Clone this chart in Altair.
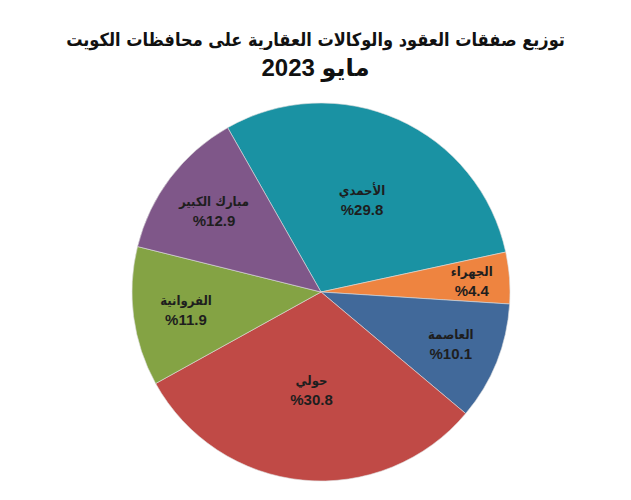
import math
import altair as alt
import pandas as pd

regions = ["الأحمدي", "الجهراء", "العاصمة", "حولي", "الفروانية", "مبارك الكبير"]
shares = [29.8, 4.4, 10.1, 30.8, 11.9, 12.9]
pct_labels = ["%29.8", "%4.4", "%10.1", "%30.8", "%11.9", "%12.9"]
colors = ["#1a92a3", "#ee8440", "#41699a", "#c04a46", "#84a344", "#7f5789"]

df = pd.DataFrame({
    "region": regions,
    "value": shares,
    "pct": pct_labels,
    "order": list(range(len(regions))),
})

start = -29.6 * math.pi / 180
theta = alt.Theta("value:Q", stack=True,
                  scale=alt.Scale(range=[start, start + 2 * math.pi]))
color = alt.Color("region:N", scale=alt.Scale(domain=regions, range=colors), legend=None)
cx, cy = 321, 292

base = alt.Chart(df).encode(
    theta=theta,
    order=alt.Order("order:Q"),
    detail="region:N",
    x=alt.value(cx),
    y=alt.value(cy),
)

arcs = base.mark_arc(outerRadius=189, stroke="#dddddd", strokeWidth=0.6).encode(color=color)

label_radius = {"expr": "160 - 2*datum.value"}
names = base.mark_text(font="DejaVu Sans Condensed, DejaVu Sans", fontSize=13, fontWeight="bold",
                       dy=-9, color="#1e1e1e", radius=label_radius).encode(text="region:N")
pcts = base.mark_text(font="Liberation Sans, DejaVu Sans", fontSize=15, fontWeight="bold",
                      dy=10, color="#1e1e1e", radius=label_radius).encode(text="pct:N")

chart = alt.layer(arcs, names, pcts).properties(
    width=631, height=500,
    autosize=alt.AutoSizeParams(type="none"),
    padding=0,
    title=alt.TitleParams(
        text="توزيع صفقات العقود والوكالات العقارية على محافظات الكويت",
        subtitle="مايو 2023",
        font="DejaVu Sans Condensed, DejaVu Sans", fontSize=18, fontWeight="bold",
        subtitleFont="Liberation Sans, DejaVu Sans", subtitleFontSize=24,
        subtitleFontWeight="bold", subtitleColor="#111111", subtitlePadding=7,
        color="#111111", anchor="middle", offset=-81, frame="bounds",
    ),
).configure_view(stroke=None)

chart.save("out.html", embed_options={"renderer": "svg", "actions": False})
